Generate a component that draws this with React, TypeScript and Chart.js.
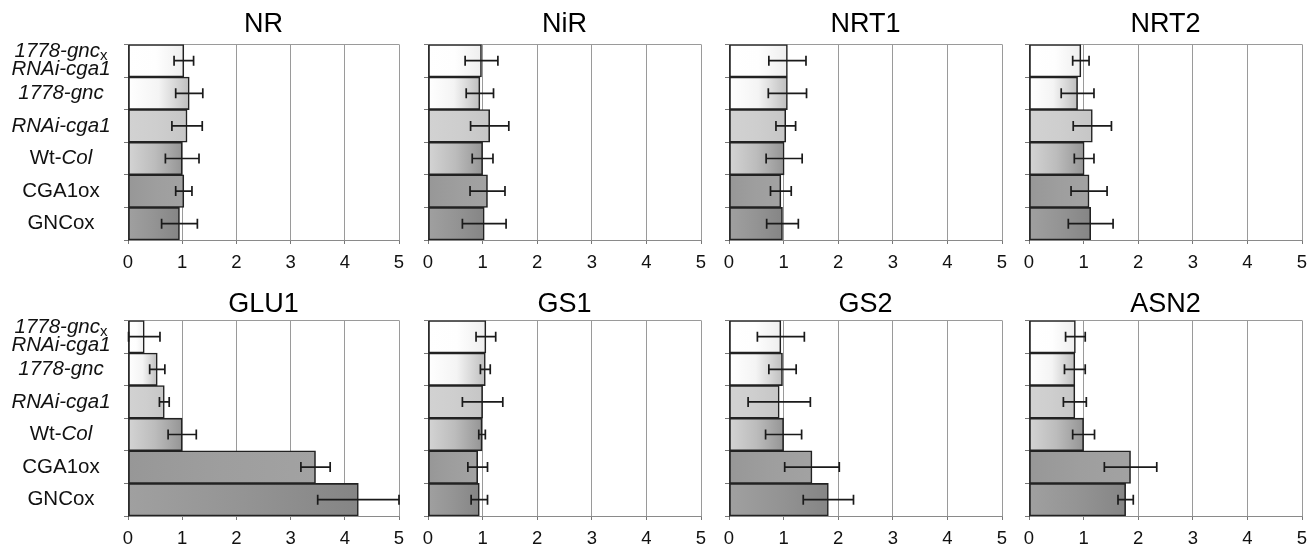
import React, { useEffect, useRef } from "react";
import { Chart, registerables } from "chart.js";

Chart.register(...registerables);

// ---------- data ----------
const categories = ["1778-gnc x RNAi-cga1", "1778-gnc", "RNAi-cga1", "Wt-Col", "CGA1ox", "GNCox"];
const xTickValues = [0, 1, 2, 3, 4, 5];
const panelTitles = ["NR", "NiR", "NRT1", "NRT2", "GLU1", "GS1", "GS2", "ASN2"];

const nrValues = [1.03, 1.13, 1.09, 1.0, 1.03, 0.95];
const nrErrors = [0.18, 0.25, 0.28, 0.31, 0.15, 0.33];
const nirValues = [0.98, 0.95, 1.13, 1.0, 1.09, 1.03];
const nirErrors = [0.3, 0.25, 0.35, 0.19, 0.32, 0.4];
const nrt1Values = [1.07, 1.07, 1.04, 1.01, 0.95, 0.98];
const nrt1Errors = [0.34, 0.35, 0.18, 0.33, 0.19, 0.29];
const nrt2Values = [0.95, 0.89, 1.16, 1.01, 1.1, 1.13];
const nrt2Errors = [0.15, 0.3, 0.35, 0.18, 0.33, 0.41];
const glu1Values = [0.3, 0.54, 0.67, 1.0, 3.46, 4.25];
const glu1Errors = [0.29, 0.14, 0.09, 0.26, 0.27, 0.75];
const gs1Values = [1.06, 1.05, 1.0, 0.99, 0.91, 0.94];
const gs1Errors = [0.18, 0.09, 0.37, 0.06, 0.18, 0.15];
const gs2Values = [0.95, 0.98, 0.92, 1.0, 1.52, 1.82];
const gs2Errors = [0.43, 0.25, 0.57, 0.33, 0.5, 0.46];
const asn2Values = [0.85, 0.84, 0.84, 1.0, 1.86, 1.77];
const asn2Errors = [0.18, 0.19, 0.21, 0.2, 0.48, 0.14];

const panelValues = [nrValues, nirValues, nrt1Values, nrt2Values, glu1Values, gs1Values, gs2Values, asn2Values];
const panelErrors = [nrErrors, nirErrors, nrt1Errors, nrt2Errors, glu1Errors, gs1Errors, gs2Errors, asn2Errors];

// ---------- styles ----------
const gradientStart = ["#ffffff", "#ffffff", "#d2d2d2", "#d4d4d4", "#979797", "#a0a0a0"];
const gradientMid = ["#fefefe", "#f4f4f4", "#cecece", "#bcbcbc", "#9e9e9e", "#949494"];
const gradientEnd = ["#eeeeee", "#bebebe", "#c6c6c6", "#959595", "#a2a2a2", "#858585"];

type Seg = { t: string; it?: boolean; sub?: boolean };
const labelStyles: Seg[][][] = [
  [[{ t: "1778-gnc", it: true }, { t: "x", sub: true }], [{ t: "RNAi-cga1", it: true }]],
  [[{ t: "1778-gnc", it: true }]],
  [[{ t: "RNAi-cga1", it: true }]],
  [[{ t: "Wt-" }, { t: "Col", it: true }]],
  [[{ t: "CGA1ox" }]],
  [[{ t: "GNCox" }]],
];

const FONT = "'Liberation Sans', Arial, Helvetica, sans-serif";
const plotLefts = [128, 428, 729, 1029];
const plotWidths = [271, 273, 273, 273];
const rowTops = [0, 274];
const rowHeight = 274;
const padTop = [8, 14];
const titlePadBottom = [4, 0];
const padBottom = [4, 2];
const X_AXIS_H = 30;
const Y_AXIS_W = 6;
const RIGHT_PAD = 14;

const errorBarPlugin = {
  id: "errorBars",
  afterDatasetsDraw(chart: any, _args: any, opts: any) {
    const { ctx, scales } = chart;
    const xs = scales.x;
    const ys = scales.y;
    const vals: number[] = opts.values;
    const errs: number[] = opts.errors;
    ctx.save();
    ctx.strokeStyle = "#1a1a1a";
    ctx.lineWidth = 1.7;
    for (let i = 0; i < vals.length; i++) {
      const y = ys.getPixelForValue(i);
      const xl = xs.getPixelForValue(Math.max(0, vals[i] - errs[i]));
      const xr = xs.getPixelForValue(vals[i] + errs[i]);
      ctx.beginPath();
      ctx.moveTo(xl, y);
      ctx.lineTo(xr, y);
      ctx.moveTo(xl, y - 5);
      ctx.lineTo(xl, y + 5);
      ctx.moveTo(xr, y - 5);
      ctx.lineTo(xr, y + 5);
      ctx.stroke();
    }
    ctx.restore();
  },
};

const frameTopPlugin = {
  id: "frameTop",
  beforeDatasetsDraw(chart: any) {
    const { ctx, chartArea } = chart;
    ctx.save();
    ctx.strokeStyle = "#9a9a9a";
    ctx.lineWidth = 1;
    ctx.beginPath();
    ctx.moveTo(chartArea.left, Math.round(chartArea.top) + 0.5);
    ctx.lineTo(chartArea.right, Math.round(chartArea.top) + 0.5);
    ctx.stroke();
    ctx.restore();
  },
};

const categoryLabelPlugin = {
  id: "categoryLabels",
  afterDraw(chart: any, _args: any, opts: any) {
    if (!opts || !opts.show) return;
    const { ctx, scales } = chart;
    const ys = scales.y;
    const cx = 61;
    const size = 20.5;
    const fontFor = (s: Seg) =>
      s.sub ? `normal 15px ${FONT}` : `${s.it ? "italic " : ""}normal ${size}px ${FONT}`;
    ctx.save();
    ctx.fillStyle = "#111";
    ctx.textBaseline = "middle";
    ctx.textAlign = "left";
    categories.forEach((_c, i) => {
      const yc = ys.getPixelForValue(i);
      const lines = labelStyles[i];
      const n = lines.length;
      lines.forEach((line, li) => {
        const y = yc + (li - (n - 1) / 2) * 18;
        let total = 0;
        const widths = line.map((s) => {
          ctx.font = fontFor(s);
          const w = ctx.measureText(s.t).width;
          total += w;
          return w;
        });
        let x = cx - total / 2;
        line.forEach((s, si) => {
          ctx.font = fontFor(s);
          ctx.fillText(s.t, x, s.sub ? y + 4 : y);
          x += widths[si];
        });
      });
    });
    ctx.restore();
  },
};

function Panel({ index }: { index: number }) {
  const ref = useRef<HTMLCanvasElement | null>(null);
  const col = index % 4;
  const row = Math.floor(index / 4);
  const plotLeft = plotLefts[col];
  const canvasLeft = col === 0 ? 0 : plotLeft - 24;
  const canvasWidth = plotLeft + plotWidths[col] + RIGHT_PAD - canvasLeft;
  const values = panelValues[index];
  const errors = panelErrors[index];

  useEffect(() => {
    const canvas = ref.current;
    if (!canvas) return;
    const chart = new Chart(canvas, {
      type: "bar",
      data: {
        labels: categories,
        datasets: [
          {
            data: values,
            barPercentage: 1,
            categoryPercentage: 1,
            borderWidth: 1.6,
            borderColor: "#222222",
            borderSkipped: false,
            backgroundColor: (ctx: any) => {
              const i = ctx.dataIndex ?? 0;
              const fallback = gradientMid[i] || "#ccc";
              const ch = ctx.chart;
              const xs = ch.scales && ch.scales.x;
              if (!ch.chartArea || !xs) return fallback;
              const x0 = xs.getPixelForValue(0);
              const x1 = xs.getPixelForValue(values[i]);
              if (!isFinite(x0) || !isFinite(x1) || x1 - x0 < 1) return fallback;
              const g = ch.ctx.createLinearGradient(x0, 0, x1, 0);
              g.addColorStop(0, gradientStart[i]);
              g.addColorStop(0.5, gradientMid[i]);
              g.addColorStop(1, gradientEnd[i]);
              return g;
            },
          },
        ],
      },
      options: {
        indexAxis: "y",
        responsive: false,
        animation: false,
        devicePixelRatio: 1,
        layout: {
          padding: {
            left: plotLeft - canvasLeft - Y_AXIS_W,
            right: RIGHT_PAD,
            top: padTop[row],
            bottom: padBottom[row],
          },
        },
        scales: {
          x: {
            type: "linear",
            min: xTickValues[0],
            max: xTickValues[xTickValues.length - 1],
            afterFit: (s: any) => {
              s.height = X_AXIS_H;
            },
            afterBuildTicks: (s: any) => {
              s.ticks = xTickValues.map((v) => ({ value: v }));
            },
            ticks: {
              color: "#111",
              padding: 8,
              font: { family: FONT, size: 18.5 },
              maxRotation: 0,
              callback: (v: any) => String(v),
            },
            grid: {
              color: "#9a9a9a",
              lineWidth: 1,
              drawTicks: true,
              tickLength: 4,
              tickColor: "#777",
            },
            border: { display: true, color: "#8a8a8a", width: 1 },
          },
          y: {
            type: "category",
            offset: true,
            afterFit: (s: any) => {
              s.width = Y_AXIS_W;
            },
            ticks: { display: false },
            grid: {
              offset: true,
              drawOnChartArea: false,
              drawTicks: true,
              tickLength: 4,
              tickColor: "#777",
              color: "#777",
            },
            border: { display: true, color: "#444", width: 1 },
          },
        },
        plugins: {
          legend: { display: false },
          tooltip: { enabled: false },
          title: {
            display: true,
            text: panelTitles[index],
            fullSize: false,
            color: "#000",
            font: { family: FONT, size: 27, weight: "normal", lineHeight: 1.2 },
            padding: { top: 0, bottom: titlePadBottom[row] },
          },
          errorBars: { values, errors },
          categoryLabels: { show: col === 0 },
        } as any,
      } as any,
      plugins: [frameTopPlugin, errorBarPlugin, categoryLabelPlugin],
    });
    return () => chart.destroy();
  }, []);

  return (
    <canvas
      ref={ref}
      width={canvasWidth}
      height={rowHeight}
      style={{ position: "absolute", left: canvasLeft, top: rowTops[row], width: canvasWidth, height: rowHeight }}
    />
  );
}

export default function App() {
  return (
    <div
      style={{
        position: "absolute",
        left: 0,
        top: 0,
        width: 1312,
        height: 548,
        background: "#ffffff",
        overflow: "hidden",
      }}
    >
      {panelTitles.map((t, i) => (
        <Panel key={t} index={i} />
      ))}
    </div>
  );
}
